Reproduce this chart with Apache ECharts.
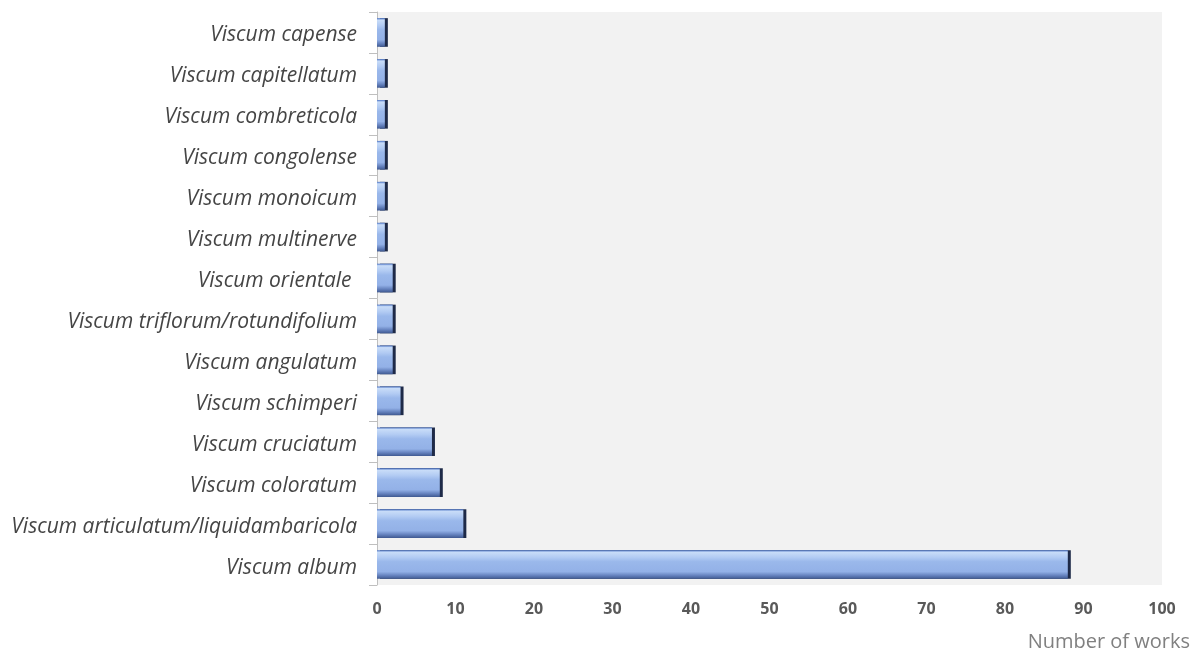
<!DOCTYPE html>
<html>
<head>
<meta charset="utf-8">
<script src="https://cdn.jsdelivr.net/npm/echarts@6/dist/echarts.min.js"></script>
<style>
  html, body { margin: 0; padding: 0; background: #fff; }
  #chart { width: 1201px; height: 650px; }
</style>
</head>
<body>
<div id="chart"></div>
<script>
// top to bottom, as in the figure
const species = [
  'Viscum capense',
  'Viscum capitellatum',
  'Viscum combreticola',
  'Viscum congolense',
  'Viscum monoicum',
  'Viscum multinerve',
  'Viscum orientale ',
  'Viscum triflorum/rotundifolium',
  'Viscum angulatum',
  'Viscum schimperi',
  'Viscum cruciatum',
  'Viscum coloratum',
  'Viscum articulatum/liquidambaricola',
  'Viscum album'
]
const works = [1, 1, 1, 1, 1, 1, 2, 2, 2, 3, 7, 8, 11, 88]

const chart = echarts.init(document.getElementById('chart'))

chart.setOption({
  animation: false,
  grid: {
    left: 377,
    right: 39,
    top: 12,
    bottom: 65,
    outerBoundsMode: 'none',
    show: true,
    backgroundColor: '#f2f2f2',
    borderWidth: 0
  },
  xAxis: {
    type: 'value',
    min: 0,
    max: 100,
    interval: 10,
    name: 'Number of works',
    nameLocation: 'end',
    nameGap: 0,
    nameTextStyle: {
      color: '#808080',
      fontFamily: 'Open Sans',
      fontSize: 20,
      align: 'right',
      verticalAlign: 'top',
      padding: [47, -28, 0, 0]
    },
    axisLine: { show: false },
    axisTick: { show: false },
    splitLine: { show: false },
    axisLabel: {
      color: '#595959',
      fontFamily: 'Open Sans',
      fontWeight: 'bold',
      fontSize: 16,
      margin: 16
    }
  },
  yAxis: {
    type: 'category',
    inverse: true,
    data: species,
    axisLine: { show: true, lineStyle: { color: '#bfbfbf', width: 1 } },
    axisTick: { show: true, length: 8, lineStyle: { color: '#bfbfbf' } },
    axisLabel: {
      color: '#454545',
      fontFamily: 'Open Sans',
      fontStyle: 'italic',
      fontSize: 21,
      margin: 20,
      verticalAlign: 'top',
      lineHeight: 6
    }
  },
  series: [{
    type: 'bar',
    data: works,
    barCategoryGap: '30%',
    itemStyle: {
      color: new echarts.graphic.LinearGradient(0, 0, 0, 1, [
        { offset: 0, color: '#4a72c4' },
        { offset: 0.07, color: '#c8dcf8' },
        { offset: 0.25, color: '#b2cbf3' },
        { offset: 0.4, color: '#9ab8eb' },
        { offset: 0.75, color: '#93b1e7' },
        { offset: 0.88, color: '#6683bf' },
        { offset: 1, color: '#3f5991' }
      ]),
      borderWidth: 0,
      shadowColor: '#1e2a48',
      shadowOffsetX: 3,
      shadowOffsetY: 0,
      shadowBlur: 0
    }
  }]
})
</script>
</body>
</html>
